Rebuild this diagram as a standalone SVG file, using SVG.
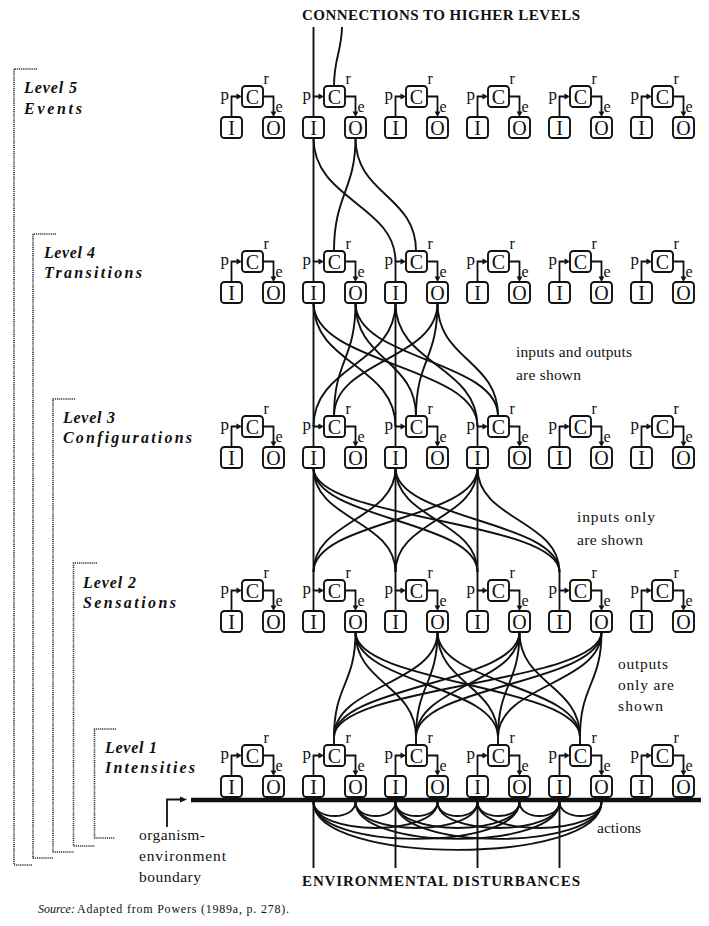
<svg xmlns="http://www.w3.org/2000/svg" xmlns:xlink="http://www.w3.org/1999/xlink" width="709" height="926" viewBox="0 0 709 926">
<style>
.bx{fill:#fff;stroke:#111;stroke-width:1.9}
.ln{fill:none;stroke:#111;stroke-width:1.8}
.ah{fill:#111}
.t{font-family:"Liberation Serif","Times New Roman",serif;fill:#111}
.big{font-size:20px;text-anchor:middle}
.p{font-size:17px}
.s{font-size:16px}
.lv{font-family:"Liberation Serif","Times New Roman",serif;font-style:italic;font-weight:bold;font-size:16px;fill:#111}
.lab{font-size:15.5px}
.cap{font-weight:bold;font-size:15px}
.src{font-size:12px}
.br{fill:none;stroke:#333;stroke-width:1.6;stroke-dasharray:1.2 0.9}
.cn{fill:none;stroke:#111;stroke-width:1.9}
.bd{fill:none;stroke:#111;stroke-width:4.5}
</style>
<defs>
<!-- one control unit: input I, comparator C, output O, with p and e signal paths -->
<g id="frame">
<rect class="bx" x="0" y="31" width="21" height="21" rx="3.5"/>
<rect class="bx" x="21" y="0" width="21" height="21" rx="3.5"/>
<rect class="bx" x="42" y="31" width="21" height="21" rx="3.5"/>
<path class="ln" d="M10.5,31V10.5H16.5"/>
<path class="ah" d="M15.5,7.6L21,10.5L15.5,13.4Z"/>
<path class="ln" d="M42,10.5H52.5V26"/>
<path class="ah" d="M49.6,25.5L52.5,31L55.4,25.5Z"/>
</g>
</defs>
<rect width="709" height="926" fill="#fff"/>

<!-- level brackets -->
<g id="brackets">
<path class="br" d="M37,69H14V865H32"/>
<path class="br" d="M56,234H33V858H53"/>
<path class="br" d="M75,399H53V852H74"/>
<path class="br" d="M97,563H73.5V846H95"/>
<path class="br" d="M116,729H94.5V838H115"/>
</g>

<g id="level-labels">
<text class="lv" x="24" y="93" textLength="53">Level 5</text>
<text class="lv" x="24" y="113.5" textLength="58">Events</text>
<text class="lv" x="44" y="258" textLength="51">Level 4</text>
<text class="lv" x="44" y="278" textLength="98">Transitions</text>
<text class="lv" x="63" y="422.5" textLength="52">Level 3</text>
<text class="lv" x="63" y="442.5" textLength="129">Configurations</text>
<text class="lv" x="83" y="587.5" textLength="53">Level 2</text>
<text class="lv" x="83" y="607.5" textLength="93">Sensations</text>
<text class="lv" x="105" y="752.5" textLength="52">Level 1</text>
<text class="lv" x="105" y="772.5" textLength="90">Intensities</text>
</g>

<!-- signal connections between levels -->
<g id="connectors">
<!-- to higher levels -->
<path class="cn" d="M313.5,27V96.5"/>
<path class="cn" d="M342,27C341.5,52 334,58 334,86"/>
<!-- level 5 to level 4 -->
<path class="cn" d="M313.5,138V261.5"/>
<path class="cn" d="M313.5,138C313.5,200 395.5,205 395.5,261.5"/>
<path class="cn" d="M355.5,138C355.5,190 334,195 334,251"/>
<path class="cn" d="M355.5,138C355.5,195 416,195 416,251"/>
<!-- level 4 to level 3: inputs and outputs -->
<path class="cn" d="M313.5,303V426.5"/>
<path class="cn" d="M313.5,303C313.5,365 395.5,365 395.5,426.5"/>
<path class="cn" d="M313.5,303C313.5,365 477.5,365 477.5,426.5"/>
<path class="cn" d="M395.5,303C395.5,365 313.5,365 313.5,426.5"/>
<path class="cn" d="M395.5,303V426.5"/>
<path class="cn" d="M395.5,303C395.5,365 477.5,365 477.5,426.5"/>
<path class="cn" d="M355.5,303C355.5,360 334,360 334,416"/>
<path class="cn" d="M355.5,303C355.5,360 416,360 416,416"/>
<path class="cn" d="M355.5,303C355.5,360 498,360 498,416"/>
<path class="cn" d="M437.5,303C437.5,360 334,360 334,416"/>
<path class="cn" d="M437.5,303C437.5,360 416,360 416,416"/>
<path class="cn" d="M437.5,303C437.5,360 498,360 498,416"/>
<!-- level 3 to level 2: inputs only -->
<path class="cn" d="M313.5,468V590.5"/>
<path class="cn" d="M395.5,468V590.5"/>
<path class="cn" d="M477.5,468V590.5"/>
<path class="cn" d="M559.5,572V590.5"/>
<path class="cn" d="M313.5,468C313.5,520 395.5,520 395.5,572"/>
<path class="cn" d="M313.5,468C313.5,520 477.5,520 477.5,572"/>
<path class="cn" d="M313.5,468C313.5,520 559.5,520 559.5,572"/>
<path class="cn" d="M395.5,468C395.5,520 313.5,520 313.5,572"/>
<path class="cn" d="M395.5,468C395.5,520 477.5,520 477.5,572"/>
<path class="cn" d="M395.5,468C395.5,520 559.5,520 559.5,572"/>
<path class="cn" d="M477.5,468C477.5,520 313.5,520 313.5,572"/>
<path class="cn" d="M477.5,468C477.5,520 395.5,520 395.5,572"/>
<path class="cn" d="M477.5,468C477.5,520 559.5,520 559.5,572"/>
<!-- level 2 to level 1: outputs only -->
<path class="cn" d="M334,737V745M416,737V745M498,737V745M580,737V745"/>
<path class="cn" d="M355.5,632C355.5,684 334,685 334,737"/>
<path class="cn" d="M355.5,632C355.5,684 416,685 416,737"/>
<path class="cn" d="M355.5,632C355.5,684 498,685 498,737"/>
<path class="cn" d="M355.5,632C355.5,684 580,685 580,737"/>
<path class="cn" d="M437.5,632C437.5,684 334,685 334,737"/>
<path class="cn" d="M437.5,632C437.5,684 416,685 416,737"/>
<path class="cn" d="M437.5,632C437.5,684 498,685 498,737"/>
<path class="cn" d="M437.5,632C437.5,684 580,685 580,737"/>
<path class="cn" d="M519.5,632C519.5,684 334,685 334,737"/>
<path class="cn" d="M519.5,632C519.5,684 416,685 416,737"/>
<path class="cn" d="M519.5,632C519.5,684 498,685 498,737"/>
<path class="cn" d="M519.5,632C519.5,684 580,685 580,737"/>
<path class="cn" d="M601.5,632C601.5,684 334,685 334,737"/>
<path class="cn" d="M601.5,632C601.5,684 416,685 416,737"/>
<path class="cn" d="M601.5,632C601.5,684 498,685 498,737"/>
<path class="cn" d="M601.5,632C601.5,684 580,685 580,737"/>
<!-- environmental disturbances -->
<path class="cn" d="M313.5,802V868M395.5,802V868M477.5,802V868M559.5,802V868"/>
<!-- actions through the environment -->
<path class="cn" d="M313.5,802C313.5,820.6 355.5,820.6 355.5,802"/>
<path class="cn" d="M355.5,802C355.5,820.6 395.5,820.6 395.5,802"/>
<path class="cn" d="M355.5,802C355.5,836.6 477.5,836.6 477.5,802"/>
<path class="cn" d="M355.5,802C355.5,851.2 559.5,851.2 559.5,802"/>
<path class="cn" d="M313.5,802C313.5,836.6 437.5,836.6 437.5,802"/>
<path class="cn" d="M395.5,802C395.5,820.6 437.5,820.6 437.5,802"/>
<path class="cn" d="M437.5,802C437.5,820.6 477.5,820.6 477.5,802"/>
<path class="cn" d="M437.5,802C437.5,836.6 559.5,836.6 559.5,802"/>
<path class="cn" d="M313.5,802C313.5,851.2 519.5,851.2 519.5,802"/>
<path class="cn" d="M395.5,802C395.5,836.6 519.5,836.6 519.5,802"/>
<path class="cn" d="M477.5,802C477.5,820.6 519.5,820.6 519.5,802"/>
<path class="cn" d="M519.5,802C519.5,820.6 559.5,820.6 559.5,802"/>
<path class="cn" d="M313.5,802C313.5,865.8 601.5,865.8 601.5,802"/>
<path class="cn" d="M395.5,802C395.5,851.2 601.5,851.2 601.5,802"/>
<path class="cn" d="M477.5,802C477.5,836.6 601.5,836.6 601.5,802"/>
<path class="cn" d="M559.5,802C559.5,820.6 601.5,820.6 601.5,802"/>
<!-- boundary pointer -->
<path class="ln" d="M167,827V799.5H181"/>
<path class="ah" d="M180,796.5L187,799.5L180,802.5Z"/>
</g>

<!-- organism-environment boundary -->
<path id="boundary" class="bd" d="M191,800H701"/>

<!-- Level 5 units -->
<g id="L5u1" transform="translate(221,86)"><use xlink:href="#frame"/><text class="t big" x="10.5" y="48.5">I</text><text class="t big" x="31.5" y="17.5">C</text><text class="t big" x="52.5" y="48.5">O</text><text class="t p" x="-0.5" y="13.5">p</text><text class="t s" x="42.5" y="-2">r</text><text class="t s" x="54.5" y="26">e</text></g>
<g id="L5u2" transform="translate(303,86)"><use xlink:href="#frame"/><text class="t big" x="10.5" y="48.5">I</text><text class="t big" x="31.5" y="17.5">C</text><text class="t big" x="52.5" y="48.5">O</text><text class="t p" x="-0.5" y="13.5">p</text><text class="t s" x="42.5" y="-2">r</text><text class="t s" x="54.5" y="26">e</text></g>
<g id="L5u3" transform="translate(385,86)"><use xlink:href="#frame"/><text class="t big" x="10.5" y="48.5">I</text><text class="t big" x="31.5" y="17.5">C</text><text class="t big" x="52.5" y="48.5">O</text><text class="t p" x="-0.5" y="13.5">p</text><text class="t s" x="42.5" y="-2">r</text><text class="t s" x="54.5" y="26">e</text></g>
<g id="L5u4" transform="translate(467,86)"><use xlink:href="#frame"/><text class="t big" x="10.5" y="48.5">I</text><text class="t big" x="31.5" y="17.5">C</text><text class="t big" x="52.5" y="48.5">O</text><text class="t p" x="-0.5" y="13.5">p</text><text class="t s" x="42.5" y="-2">r</text><text class="t s" x="54.5" y="26">e</text></g>
<g id="L5u5" transform="translate(549,86)"><use xlink:href="#frame"/><text class="t big" x="10.5" y="48.5">I</text><text class="t big" x="31.5" y="17.5">C</text><text class="t big" x="52.5" y="48.5">O</text><text class="t p" x="-0.5" y="13.5">p</text><text class="t s" x="42.5" y="-2">r</text><text class="t s" x="54.5" y="26">e</text></g>
<g id="L5u6" transform="translate(631,86)"><use xlink:href="#frame"/><text class="t big" x="10.5" y="48.5">I</text><text class="t big" x="31.5" y="17.5">C</text><text class="t big" x="52.5" y="48.5">O</text><text class="t p" x="-0.5" y="13.5">p</text><text class="t s" x="42.5" y="-2">r</text><text class="t s" x="54.5" y="26">e</text></g>

<!-- Level 4 units -->
<g id="L4u1" transform="translate(221,251)"><use xlink:href="#frame"/><text class="t big" x="10.5" y="48.5">I</text><text class="t big" x="31.5" y="17.5">C</text><text class="t big" x="52.5" y="48.5">O</text><text class="t p" x="-0.5" y="13.5">p</text><text class="t s" x="42.5" y="-2">r</text><text class="t s" x="54.5" y="26">e</text></g>
<g id="L4u2" transform="translate(303,251)"><use xlink:href="#frame"/><text class="t big" x="10.5" y="48.5">I</text><text class="t big" x="31.5" y="17.5">C</text><text class="t big" x="52.5" y="48.5">O</text><text class="t p" x="-0.5" y="13.5">p</text><text class="t s" x="42.5" y="-2">r</text><text class="t s" x="54.5" y="26">e</text></g>
<g id="L4u3" transform="translate(385,251)"><use xlink:href="#frame"/><text class="t big" x="10.5" y="48.5">I</text><text class="t big" x="31.5" y="17.5">C</text><text class="t big" x="52.5" y="48.5">O</text><text class="t p" x="-0.5" y="13.5">p</text><text class="t s" x="42.5" y="-2">r</text><text class="t s" x="54.5" y="26">e</text></g>
<g id="L4u4" transform="translate(467,251)"><use xlink:href="#frame"/><text class="t big" x="10.5" y="48.5">I</text><text class="t big" x="31.5" y="17.5">C</text><text class="t big" x="52.5" y="48.5">O</text><text class="t p" x="-0.5" y="13.5">p</text><text class="t s" x="42.5" y="-2">r</text><text class="t s" x="54.5" y="26">e</text></g>
<g id="L4u5" transform="translate(549,251)"><use xlink:href="#frame"/><text class="t big" x="10.5" y="48.5">I</text><text class="t big" x="31.5" y="17.5">C</text><text class="t big" x="52.5" y="48.5">O</text><text class="t p" x="-0.5" y="13.5">p</text><text class="t s" x="42.5" y="-2">r</text><text class="t s" x="54.5" y="26">e</text></g>
<g id="L4u6" transform="translate(631,251)"><use xlink:href="#frame"/><text class="t big" x="10.5" y="48.5">I</text><text class="t big" x="31.5" y="17.5">C</text><text class="t big" x="52.5" y="48.5">O</text><text class="t p" x="-0.5" y="13.5">p</text><text class="t s" x="42.5" y="-2">r</text><text class="t s" x="54.5" y="26">e</text></g>

<!-- Level 3 units -->
<g id="L3u1" transform="translate(221,416)"><use xlink:href="#frame"/><text class="t big" x="10.5" y="48.5">I</text><text class="t big" x="31.5" y="17.5">C</text><text class="t big" x="52.5" y="48.5">O</text><text class="t p" x="-0.5" y="13.5">p</text><text class="t s" x="42.5" y="-2">r</text><text class="t s" x="54.5" y="26">e</text></g>
<g id="L3u2" transform="translate(303,416)"><use xlink:href="#frame"/><text class="t big" x="10.5" y="48.5">I</text><text class="t big" x="31.5" y="17.5">C</text><text class="t big" x="52.5" y="48.5">O</text><text class="t p" x="-0.5" y="13.5">p</text><text class="t s" x="42.5" y="-2">r</text><text class="t s" x="54.5" y="26">e</text></g>
<g id="L3u3" transform="translate(385,416)"><use xlink:href="#frame"/><text class="t big" x="10.5" y="48.5">I</text><text class="t big" x="31.5" y="17.5">C</text><text class="t big" x="52.5" y="48.5">O</text><text class="t p" x="-0.5" y="13.5">p</text><text class="t s" x="42.5" y="-2">r</text><text class="t s" x="54.5" y="26">e</text></g>
<g id="L3u4" transform="translate(467,416)"><use xlink:href="#frame"/><text class="t big" x="10.5" y="48.5">I</text><text class="t big" x="31.5" y="17.5">C</text><text class="t big" x="52.5" y="48.5">O</text><text class="t p" x="-0.5" y="13.5">p</text><text class="t s" x="42.5" y="-2">r</text><text class="t s" x="54.5" y="26">e</text></g>
<g id="L3u5" transform="translate(549,416)"><use xlink:href="#frame"/><text class="t big" x="10.5" y="48.5">I</text><text class="t big" x="31.5" y="17.5">C</text><text class="t big" x="52.5" y="48.5">O</text><text class="t p" x="-0.5" y="13.5">p</text><text class="t s" x="42.5" y="-2">r</text><text class="t s" x="54.5" y="26">e</text></g>
<g id="L3u6" transform="translate(631,416)"><use xlink:href="#frame"/><text class="t big" x="10.5" y="48.5">I</text><text class="t big" x="31.5" y="17.5">C</text><text class="t big" x="52.5" y="48.5">O</text><text class="t p" x="-0.5" y="13.5">p</text><text class="t s" x="42.5" y="-2">r</text><text class="t s" x="54.5" y="26">e</text></g>

<!-- Level 2 units -->
<g id="L2u1" transform="translate(221,580)"><use xlink:href="#frame"/><text class="t big" x="10.5" y="48.5">I</text><text class="t big" x="31.5" y="17.5">C</text><text class="t big" x="52.5" y="48.5">O</text><text class="t p" x="-0.5" y="13.5">p</text><text class="t s" x="42.5" y="-2">r</text><text class="t s" x="54.5" y="26">e</text></g>
<g id="L2u2" transform="translate(303,580)"><use xlink:href="#frame"/><text class="t big" x="10.5" y="48.5">I</text><text class="t big" x="31.5" y="17.5">C</text><text class="t big" x="52.5" y="48.5">O</text><text class="t p" x="-0.5" y="13.5">p</text><text class="t s" x="42.5" y="-2">r</text><text class="t s" x="54.5" y="26">e</text></g>
<g id="L2u3" transform="translate(385,580)"><use xlink:href="#frame"/><text class="t big" x="10.5" y="48.5">I</text><text class="t big" x="31.5" y="17.5">C</text><text class="t big" x="52.5" y="48.5">O</text><text class="t p" x="-0.5" y="13.5">p</text><text class="t s" x="42.5" y="-2">r</text><text class="t s" x="54.5" y="26">e</text></g>
<g id="L2u4" transform="translate(467,580)"><use xlink:href="#frame"/><text class="t big" x="10.5" y="48.5">I</text><text class="t big" x="31.5" y="17.5">C</text><text class="t big" x="52.5" y="48.5">O</text><text class="t p" x="-0.5" y="13.5">p</text><text class="t s" x="42.5" y="-2">r</text><text class="t s" x="54.5" y="26">e</text></g>
<g id="L2u5" transform="translate(549,580)"><use xlink:href="#frame"/><text class="t big" x="10.5" y="48.5">I</text><text class="t big" x="31.5" y="17.5">C</text><text class="t big" x="52.5" y="48.5">O</text><text class="t p" x="-0.5" y="13.5">p</text><text class="t s" x="42.5" y="-2">r</text><text class="t s" x="54.5" y="26">e</text></g>
<g id="L2u6" transform="translate(631,580)"><use xlink:href="#frame"/><text class="t big" x="10.5" y="48.5">I</text><text class="t big" x="31.5" y="17.5">C</text><text class="t big" x="52.5" y="48.5">O</text><text class="t p" x="-0.5" y="13.5">p</text><text class="t s" x="42.5" y="-2">r</text><text class="t s" x="54.5" y="26">e</text></g>

<!-- Level 1 units -->
<g id="L1u1" transform="translate(221,745)"><use xlink:href="#frame"/><text class="t big" x="10.5" y="48.5">I</text><text class="t big" x="31.5" y="17.5">C</text><text class="t big" x="52.5" y="48.5">O</text><text class="t p" x="-0.5" y="13.5">p</text><text class="t s" x="42.5" y="-2">r</text><text class="t s" x="54.5" y="26">e</text></g>
<g id="L1u2" transform="translate(303,745)"><use xlink:href="#frame"/><text class="t big" x="10.5" y="48.5">I</text><text class="t big" x="31.5" y="17.5">C</text><text class="t big" x="52.5" y="48.5">O</text><text class="t p" x="-0.5" y="13.5">p</text><text class="t s" x="42.5" y="-2">r</text><text class="t s" x="54.5" y="26">e</text></g>
<g id="L1u3" transform="translate(385,745)"><use xlink:href="#frame"/><text class="t big" x="10.5" y="48.5">I</text><text class="t big" x="31.5" y="17.5">C</text><text class="t big" x="52.5" y="48.5">O</text><text class="t p" x="-0.5" y="13.5">p</text><text class="t s" x="42.5" y="-2">r</text><text class="t s" x="54.5" y="26">e</text></g>
<g id="L1u4" transform="translate(467,745)"><use xlink:href="#frame"/><text class="t big" x="10.5" y="48.5">I</text><text class="t big" x="31.5" y="17.5">C</text><text class="t big" x="52.5" y="48.5">O</text><text class="t p" x="-0.5" y="13.5">p</text><text class="t s" x="42.5" y="-2">r</text><text class="t s" x="54.5" y="26">e</text></g>
<g id="L1u5" transform="translate(549,745)"><use xlink:href="#frame"/><text class="t big" x="10.5" y="48.5">I</text><text class="t big" x="31.5" y="17.5">C</text><text class="t big" x="52.5" y="48.5">O</text><text class="t p" x="-0.5" y="13.5">p</text><text class="t s" x="42.5" y="-2">r</text><text class="t s" x="54.5" y="26">e</text></g>
<g id="L1u6" transform="translate(631,745)"><use xlink:href="#frame"/><text class="t big" x="10.5" y="48.5">I</text><text class="t big" x="31.5" y="17.5">C</text><text class="t big" x="52.5" y="48.5">O</text><text class="t p" x="-0.5" y="13.5">p</text><text class="t s" x="42.5" y="-2">r</text><text class="t s" x="54.5" y="26">e</text></g>

<!-- annotations -->
<g id="notes">
<text class="t cap" x="302" y="19.5" textLength="278">CONNECTIONS TO HIGHER LEVELS</text>
<text class="t lab" x="516" y="357" textLength="116">inputs and outputs</text>
<text class="t lab" x="516" y="380" textLength="65">are shown</text>
<text class="t lab" x="577" y="522" textLength="78">inputs only</text>
<text class="t lab" x="577" y="545" textLength="66">are shown</text>
<text class="t lab" x="618" y="669" textLength="50">outputs</text>
<text class="t lab" x="618" y="690" textLength="56">only are</text>
<text class="t lab" x="618" y="711" textLength="45">shown</text>
<text class="t lab" x="597" y="833" textLength="44">actions</text>
<text class="t lab" x="139" y="840" textLength="66">organism-</text>
<text class="t lab" x="139" y="861" textLength="87">environment</text>
<text class="t lab" x="139" y="882" textLength="62">boundary</text>
<text class="t cap" x="302" y="886" textLength="278">ENVIRONMENTAL DISTURBANCES</text>
<text class="t src" x="38" y="913" font-style="italic">Source:</text>
<text class="t src" x="77" y="913" textLength="212">Adapted from Powers (1989a, p. 278).</text>
</g>
</svg>
